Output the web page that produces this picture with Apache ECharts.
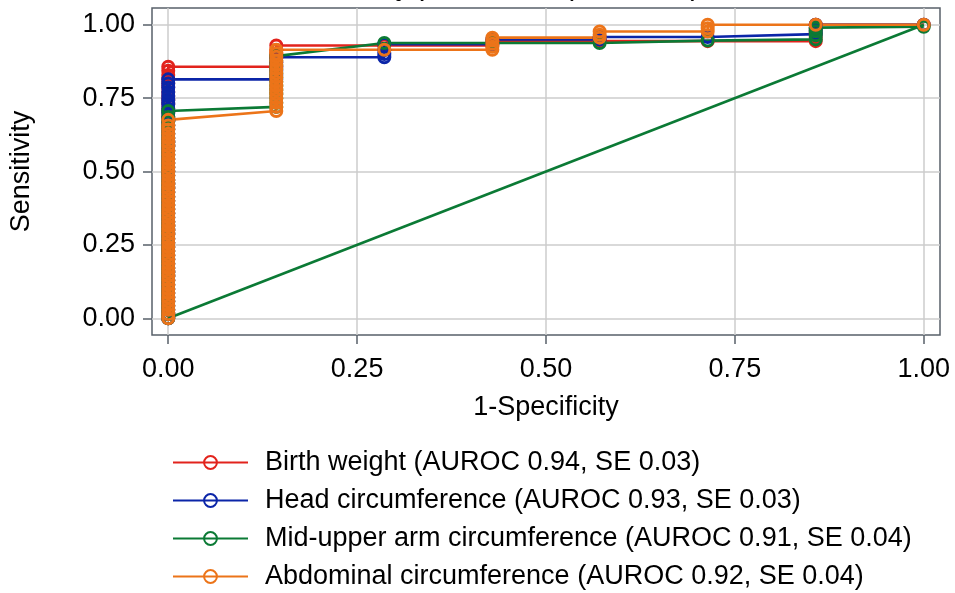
<!DOCTYPE html>
<html>
<head>
<meta charset="utf-8">
<script src="https://cdn.jsdelivr.net/npm/echarts@6/dist/echarts.min.js"></script>
<style>
html, body { margin: 0; padding: 0; background: #fff; }
#roc { width: 955px; height: 593px; }
</style>
</head>
<body>
<div id="roc"></div>
<script>
var myChart = echarts.init(document.getElementById('roc'));

// tick positions shared by both axes
var ticks = [0, 0.25, 0.5, 0.75, 1];

// sensitivity of the stacked cut-offs at 1-specificity = 0 (common to all curves)
var zeroCol = [0, 0.014, 0.029, 0.043, 0.057, 0.071, 0.086, 0.1, 0.114, 0.129, 0.143,
    0.157, 0.171, 0.186, 0.2, 0.214, 0.229, 0.243, 0.257, 0.271, 0.286, 0.3, 0.314,
    0.329, 0.343, 0.357, 0.371, 0.386, 0.4, 0.414, 0.429, 0.443, 0.457, 0.471, 0.486,
    0.5, 0.514, 0.529, 0.543, 0.557, 0.571, 0.586, 0.6, 0.614, 0.629, 0.643, 0.657];

// [1-specificity, sensitivity] for the rest of each curve
var birthWeight = [[0, 0.671], [0, 0.686], [0, 0.7], [0, 0.714], [0, 0.729], [0, 0.743],
    [0, 0.757], [0, 0.771], [0, 0.786], [0, 0.8], [0, 0.814], [0, 0.829], [0, 0.843],
    [0, 0.857], [0.143, 0.857], [0.143, 0.871], [0.143, 0.886], [0.143, 0.9],
    [0.143, 0.914], [0.143, 0.929], [0.286, 0.929], [0.429, 0.929], [0.429, 0.944],
    [0.571, 0.944], [0.714, 0.944], [0.857, 0.944], [0.857, 0.957], [0.857, 0.971],
    [0.857, 0.986], [0.857, 1], [1, 1]];
var headCirc = [[0, 0.671], [0, 0.686], [0, 0.7], [0, 0.714], [0, 0.729], [0, 0.743],
    [0, 0.757], [0, 0.771], [0, 0.786], [0, 0.8], [0, 0.814], [0.143, 0.814],
    [0.143, 0.829], [0.143, 0.843], [0.143, 0.857], [0.143, 0.871], [0.143, 0.889],
    [0.286, 0.889], [0.286, 0.9], [0.286, 0.914], [0.286, 0.934], [0.429, 0.934],
    [0.429, 0.95], [0.571, 0.95], [0.571, 0.958], [0.714, 0.958], [0.857, 0.968],
    [0.857, 0.98], [0.857, 0.99], [0.857, 1], [1, 1]];
var muac = [[0, 0.671], [0, 0.686], [0, 0.706], [0.143, 0.72], [0.143, 0.734],
    [0.143, 0.749], [0.143, 0.763], [0.143, 0.777], [0.143, 0.791], [0.143, 0.806],
    [0.143, 0.82], [0.143, 0.834], [0.143, 0.849], [0.143, 0.863], [0.143, 0.877],
    [0.143, 0.893], [0.286, 0.938], [0.429, 0.938], [0.571, 0.938], [0.714, 0.946],
    [0.857, 0.95], [0.857, 0.964], [0.857, 0.978], [0.857, 0.99], [1, 0.993]];
var abdominal = [[0, 0.676], [0.143, 0.706], [0.143, 0.72], [0.143, 0.734],
    [0.143, 0.749], [0.143, 0.763], [0.143, 0.777], [0.143, 0.791], [0.143, 0.806],
    [0.143, 0.82], [0.143, 0.834], [0.143, 0.849], [0.143, 0.863], [0.143, 0.877],
    [0.143, 0.891], [0.143, 0.903], [0.143, 0.915], [0.286, 0.915], [0.429, 0.915],
    [0.429, 0.925], [0.429, 0.935], [0.429, 0.946], [0.429, 0.956], [0.571, 0.956],
    [0.571, 0.966], [0.571, 0.977], [0.714, 0.977], [0.714, 0.988], [0.714, 1],
    [0.857, 1], [1, 1]];
var refLine = [[0, 0], [1, 1]];

var names = [
    'Birth weight (AUROC 0.94, SE 0.03)',
    'Head circumference (AUROC 0.93, SE 0.03)',
    'Mid-upper arm circumference (AUROC 0.91, SE 0.04)',
    'Abdominal circumference (AUROC 0.92, SE 0.04)'
];
var colors = ['#e2231c', '#0b25a8', '#0b7a35', '#ec7419'];
var curves = [birthWeight, headCirc, muac, abdominal];

var font = "'Liberation Sans', Arial, sans-serif";
var frameColor = '#58606a';

function rocSeries(i) {
    var pts = zeroCol.map(function (s) { return [0, s]; }).concat(curves[i]);
    return {
        name: names[i],
        type: 'line',
        data: pts,
        symbol: 'circle',
        symbolSize: 11,
        itemStyle: { color: 'rgba(255,255,255,0)', borderColor: colors[i], borderWidth: 3 },
        lineStyle: { color: colors[i], width: 2.6 },
        emphasis: { disabled: true }
    };
}

var series = [0, 1, 2, 3].map(rocSeries);
series.push({
    name: 'reference',
    type: 'line',
    data: refLine,
    symbol: 'none',
    silent: true,
    lineStyle: { color: colors[2], width: 2.6 }
});

option = {
    animation: false,
    title: {
        text: 'ROC curves by parameter (all cases)',
        left: 207,
        top: -28,
        padding: 0,
        textStyle: { fontFamily: font, fontSize: 30, fontWeight: 'normal', color: '#000' }
    },
    legend: {
        data: names,
        orient: 'vertical',
        left: 172,
        top: 449,
        padding: 0,
        itemWidth: 75,
        itemHeight: 16,
        itemGap: 11,
        textStyle: { fontFamily: font, fontSize: 27, color: '#000', padding: [0, 0, 0, 12] }
    },
    grid: {
        left: 152,
        right: 15,
        top: 8,
        bottom: 258,
        outerBoundsMode: 'none',
        show: true,
        borderColor: frameColor,
        borderWidth: 1.5
    },
    xAxis: {
        type: 'value',
        min: -0.0215,
        max: 1.0215,
        name: '1-Specificity',
        nameLocation: 'middle',
        nameGap: 59,
        nameTextStyle: { fontFamily: font, fontSize: 27, color: '#000' },
        axisLine: { show: false, onZero: false },
        axisTick: { customValues: ticks, length: 9, lineStyle: { color: frameColor, width: 1.5 } },
        axisLabel: {
            customValues: ticks,
            margin: 21,
            fontFamily: font,
            fontSize: 27,
            color: '#000',
            formatter: function (v) { return v.toFixed(2); }
        },
        splitLine: { show: true, lineStyle: { color: '#cccccc', width: 1.5 } }
    },
    yAxis: {
        type: 'value',
        min: -0.057,
        max: 1.057,
        name: 'Sensitivity',
        nameLocation: 'middle',
        nameGap: 117,
        nameTextStyle: { fontFamily: font, fontSize: 27, color: '#000' },
        axisLine: { show: false, onZero: false },
        axisTick: { customValues: ticks, length: 9, lineStyle: { color: frameColor, width: 1.5 } },
        axisLabel: {
            customValues: ticks,
            margin: 17,
            fontFamily: font,
            fontSize: 27,
            color: '#000',
            formatter: function (v) { return v.toFixed(2); }
        },
        splitLine: { show: true, lineStyle: { color: '#cccccc', width: 1.5 } }
    },
    series: series
};
myChart.setOption(option);
</script>
</body>
</html>
